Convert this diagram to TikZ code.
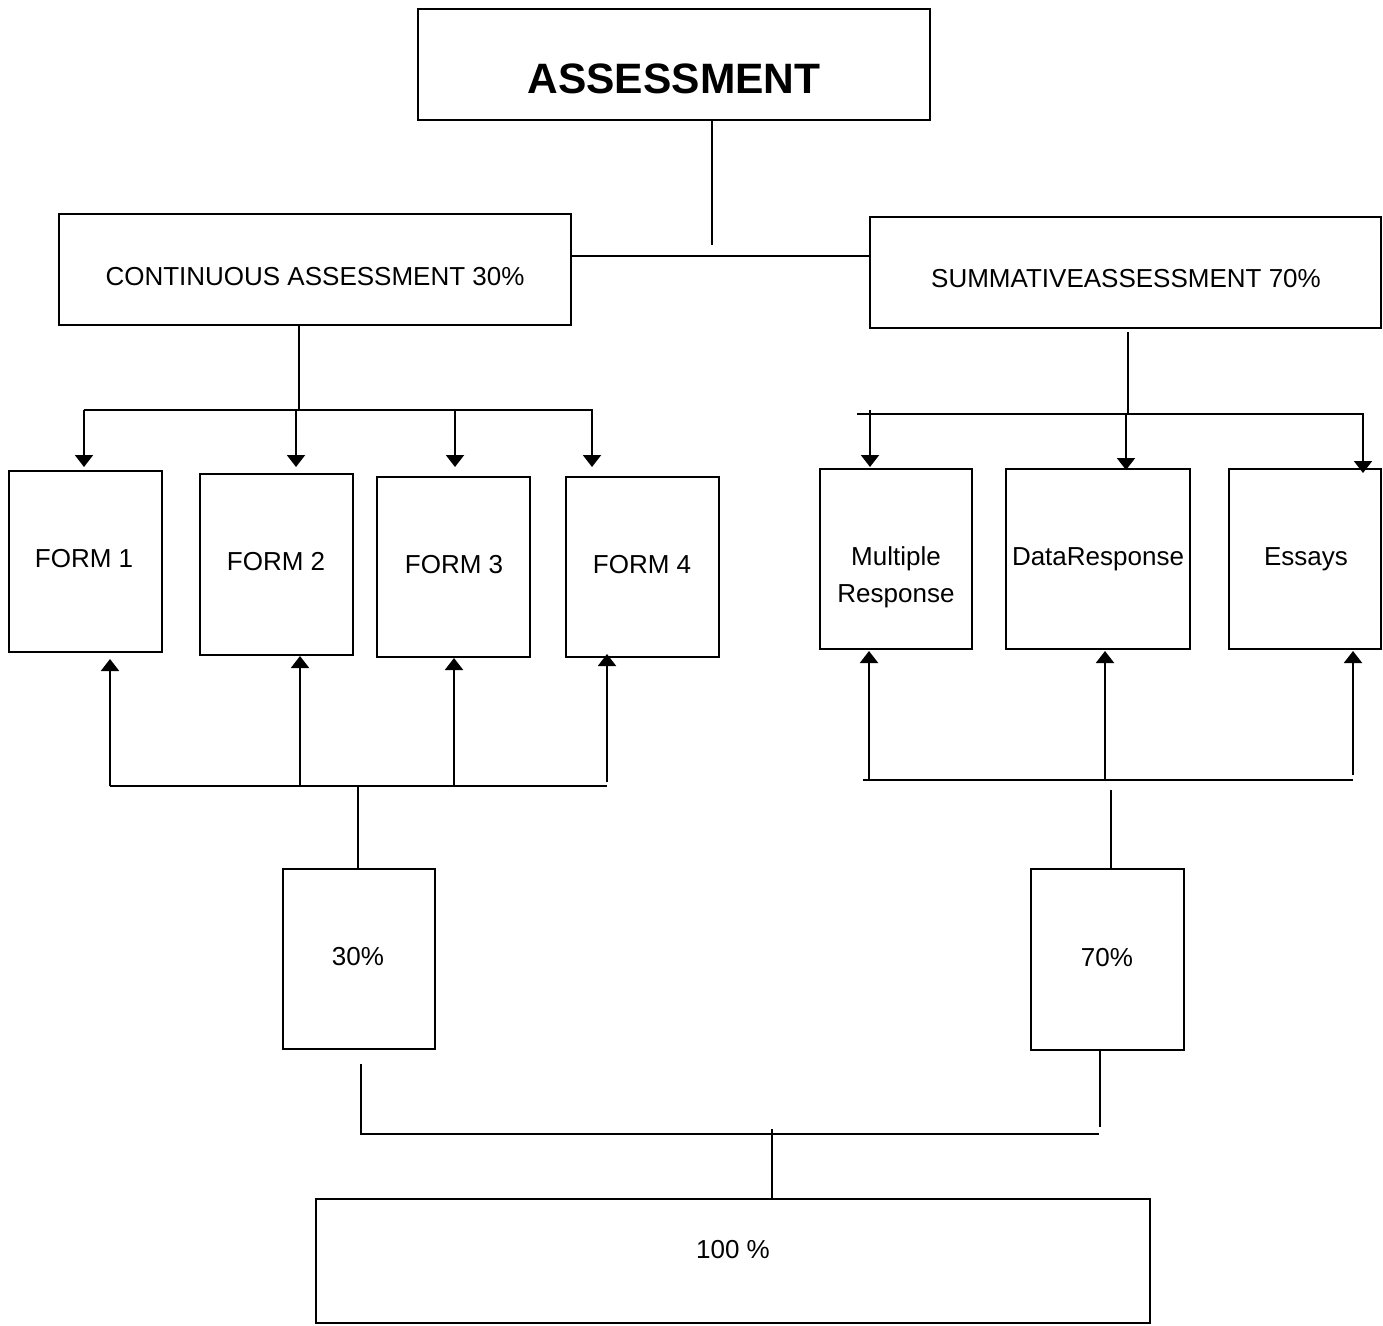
\documentclass[tikz,border=0pt]{standalone}
\usepackage{fontspec}
\setmainfont{Liberation Sans}
\usetikzlibrary{arrows.meta}
\begin{document}
\begin{tikzpicture}[x=1pt,y=-1pt,
  box/.style={draw, line width=2pt, inner sep=0pt, outer sep=0pt, anchor=north west},
  txt/.style={inner sep=0pt, align=center, font=\fontsize{26}{37}\selectfont, text height=18.7pt, text depth=0pt},
  txtml/.style={inner sep=0pt, align=center, font=\fontsize{26}{37}\selectfont},
  ln/.style={line width=2pt},
  arr/.style={line width=2pt, -{Triangle[width=18pt,length=12pt]}}]
\useasboundingbox (0,0) rectangle (1383,1325);
% boxes
\node[box, minimum width=512pt, minimum height=111pt] (asm) at (418,9) {};
\node[box, minimum width=512pt, minimum height=111pt] (cont) at (59,214) {};
\node[box, minimum width=511pt, minimum height=111pt] (summ) at (870,217) {};
\node[box, minimum width=153pt, minimum height=181pt] (f1) at (9,471) {};
\node[box, minimum width=153pt, minimum height=181pt] (f2) at (200,474) {};
\node[box, minimum width=153pt, minimum height=180pt] (f3) at (377,477) {};
\node[box, minimum width=153pt, minimum height=180pt] (f4) at (566,477) {};
\node[box, minimum width=152pt, minimum height=180pt] (mr) at (820,469) {};
\node[box, minimum width=184pt, minimum height=180pt] (dr) at (1006,469) {};
\node[box, minimum width=152pt, minimum height=180pt] (es) at (1229,469) {};
\node[box, minimum width=152pt, minimum height=180pt] (p30) at (283,869) {};
\node[box, minimum width=153pt, minimum height=181pt] (p70) at (1031,869) {};
\node[box, minimum width=834pt, minimum height=124pt] (p100) at (316,1199) {};
% texts
\node[txt, font=\fontsize{42.5}{48}\selectfont\bfseries, text height=30.6pt] (asmT) at (674,78) {ASSESSMENT};
\node[txt] (contT) at (315,276) {CONTINUOUS ASSESSMENT 30\%};
\node[txt] (summT) at (1126,278) {SUMMATIVEASSESSMENT 70\%};
\node[txt] (f1T) at (84,558) {FORM 1};
\node[txt] (f2T) at (276,561) {FORM 2};
\node[txt] (f3T) at (454,564) {FORM 3};
\node[txt] (f4T) at (642,564) {FORM 4};
\node[txtml] (mrT) at (896,577) {Multiple\\Response};
\node[txt] (drT) at (1098,556) {DataResponse};
\node[txt] (esT) at (1306,556) {Essays};
\node[txt] (p30T) at (358,956) {30\%};
\node[txt] (p70T) at (1107,957) {70\%};
\node[txt] (p100T) at (733,1249) {100 \%};
% top connectors
\draw[ln] (712,0 |- asm.south) -- (712,245);
\draw[ln] (cont.east |- 0,256) -- (summ.west |- 0,256);
% continuous branch
\draw[ln] (299,0 |- cont.south) -- (299,410);
\draw[ln] (84,410) -- (593,410);
\draw[arr, shorten >=4pt] (84,410) -- (84,0 |- f1.north);
\draw[arr, shorten >=7pt] (296,410) -- (296,0 |- f2.north);
\draw[arr, shorten >=10pt] (455,410) -- (455,0 |- f3.north);
\draw[arr, shorten >=10pt] (592,410) -- (592,0 |- f4.north);
% summative branch
\draw[ln, shorten <=4pt] (1128,0 |- summ.south) -- (1128,414);
\draw[ln] (857,414) -- (1364,414);
\draw[arr, shorten >=2pt] (870,410) -- (870,0 |- mr.north);
\draw[arr, shorten >=-1pt] (1126,414) -- (1126,0 |- dr.north);
\draw[arr, shorten >=-4pt] (1363,414) -- (1363,0 |- es.north);
% form collectors
\draw[ln] (110,786) -- (607,786);
\draw[arr, shorten >=7pt] (110,786) -- (110,0 |- f1.south);
\draw[arr, shorten >=1pt] (300,786) -- (300,0 |- f2.south);
\draw[arr, shorten >=1pt] (454,786) -- (454,0 |- f3.south);
\draw[arr, shorten >=-3pt] (607,782) -- (607,0 |- f4.south);
\draw[ln] (358,786) -- (358,0 |- p30.north);
% summative collectors
\draw[ln] (863,780) -- (1353,780);
\draw[arr, shorten >=2pt] (869,780) -- (869,0 |- mr.south);
\draw[arr, shorten >=2pt] (1105,780) -- (1105,0 |- dr.south);
\draw[arr, shorten >=2pt] (1353,775) -- (1353,0 |- es.south);
\draw[ln] (1111,790) -- (1111,0 |- p70.north);
% final
\draw[ln] (361,1064) -- (361,1134) -- (1099,1134);
\draw[ln] (1100,0 |- p70.south) -- (1100,1127);
\draw[ln] (772,1129) -- (772,0 |- p100.north);
\end{tikzpicture}
\end{document}
